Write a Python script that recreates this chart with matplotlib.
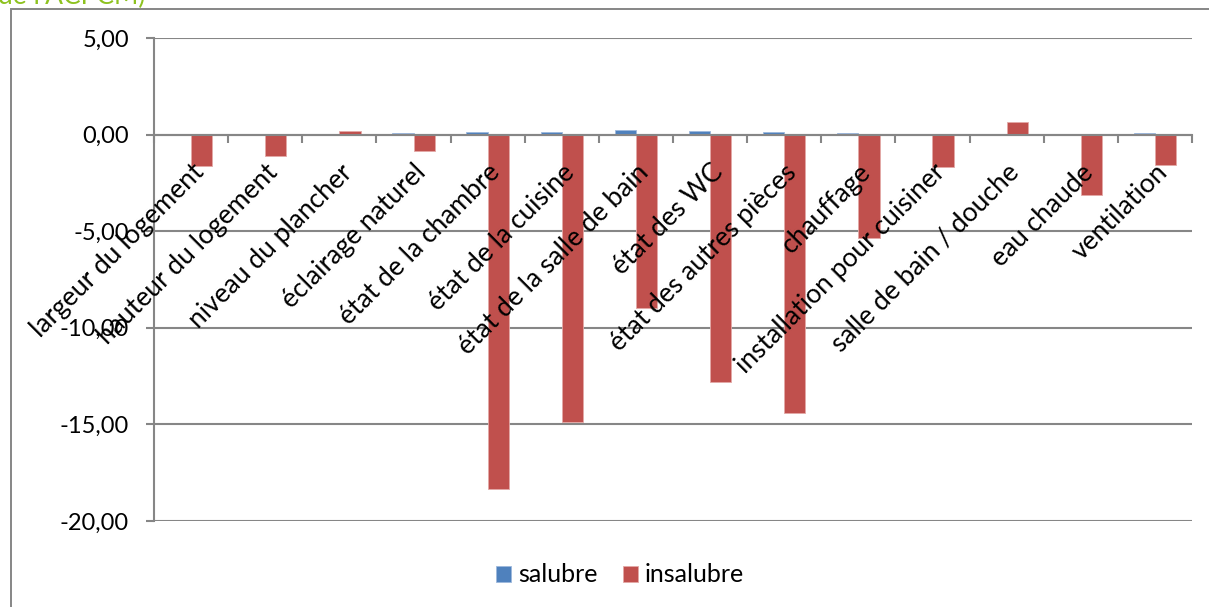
import matplotlib
matplotlib.use("Agg")
import matplotlib.pyplot as plt
from matplotlib.patches import Rectangle
from matplotlib.ticker import FixedLocator, NullFormatter
import numpy as np

categories = [
    "largeur du logement", "hauteur du logement", "niveau du plancher",
    "éclairage naturel", "état de la chambre", "état de la cuisine",
    "état de la salle de bain", "état des WC", "état des autres pièces",
    "chauffage", "installation pour cuisiner", "salle de bain / douche",
    "eau chaude", "ventilation",
]
salubre = [0.0, 0.0, 0.0, 0.07, 0.12, 0.15, 0.22, 0.17, 0.12, 0.07, 0.0, 0.0, 0.05, 0.10]
insalubre = [-1.60, -1.12, 0.21, -0.86, -18.35, -14.86, -8.95, -12.78, -14.43,
             -5.33, -1.67, 0.63, -3.13, -1.57]
y_ticks = [5, 0, -5, -10, -15, -20]
y_tick_labels = ["5,00", "0,00", "-5,00", "-10,00", "-15,00", "-20,00"]
series_names = ["salubre", "insalubre"]

plt.rcParams["font.family"] = ["Lato", "DejaVu Sans"]
W, H = 1209, 607
fig = plt.figure(figsize=(W / 100, H / 100), dpi=100)
fig.patch.set_facecolor("white")

gray = "#868686"
blue = "#4F81BD"
red = "#C0504D"

# chart area border (runs off the right and bottom edges)
fig.patches.append(Rectangle((11 / W, -0.1), 1.2, 1 - 9 / H + 0.1,
                             transform=fig.transFigure, fill=False,
                             edgecolor=gray, lw=1.4, zorder=0))
fig.text(-2 / W, 1 - 4 / H, "de l'ACPCM)", color="#8DC21F", fontsize=19,
         ha="left", va="baseline")

ax = fig.add_axes([154 / W, 1 - 521 / H, (1192 - 154) / W, (521 - 38) / H])
x = np.arange(len(categories))
bw = 1 / 3.5
ax.bar(x - bw / 2, salubre, bw, color=blue, edgecolor="#9DB8DC", lw=0.6,
       label=series_names[0], zorder=3)
ax.bar(x + bw / 2, insalubre, bw, color=red, edgecolor="#E3A9A7", lw=0.6,
       label=series_names[1], zorder=3)

ax.set_xlim(-0.5, len(categories) - 0.5)
ax.set_ylim(-20, 5)
ax.set_yticks(y_ticks)
ax.set_yticklabels(y_tick_labels, fontsize=17, color="black")
ax.yaxis.grid(True, color=gray, lw=1.5)
ax.tick_params(axis="y", length=6, width=1.5, color=gray, pad=12)

for s in ["top", "right"]:
    ax.spines[s].set_visible(False)
ax.spines["left"].set_color(gray)
ax.spines["left"].set_linewidth(1.5)
ax.spines["bottom"].set_position(("data", 0))
ax.spines["bottom"].set_color(gray)
ax.spines["bottom"].set_linewidth(1.5)
ax.spines["bottom"].set_zorder(4)

ax.set_xticks(x)
ax.set_xticklabels(categories, rotation=45, ha="right", va="top",
                   rotation_mode="anchor", fontsize=19)
ax.tick_params(axis="x", which="major", length=0, pad=18)
ax.xaxis.set_minor_locator(FixedLocator(np.arange(-0.5, len(categories), 1.0)))
ax.xaxis.set_minor_formatter(NullFormatter())
ax.tick_params(axis="x", which="minor", length=6, width=1.5, color=gray,
               direction="out")

# grid below the bars, category labels above them
ax.yaxis.set_zorder(1)
ax.xaxis.set_zorder(5)

leg = fig.legend(loc="center", bbox_to_anchor=(620 / W, 1 - 575 / H),
                 ncol=2, frameon=False, fontsize=18, handlelength=0.6,
                 handleheight=0.6, handletextpad=0.3, columnspacing=1.0)

fig.savefig("out.png", dpi=100, facecolor="white")
